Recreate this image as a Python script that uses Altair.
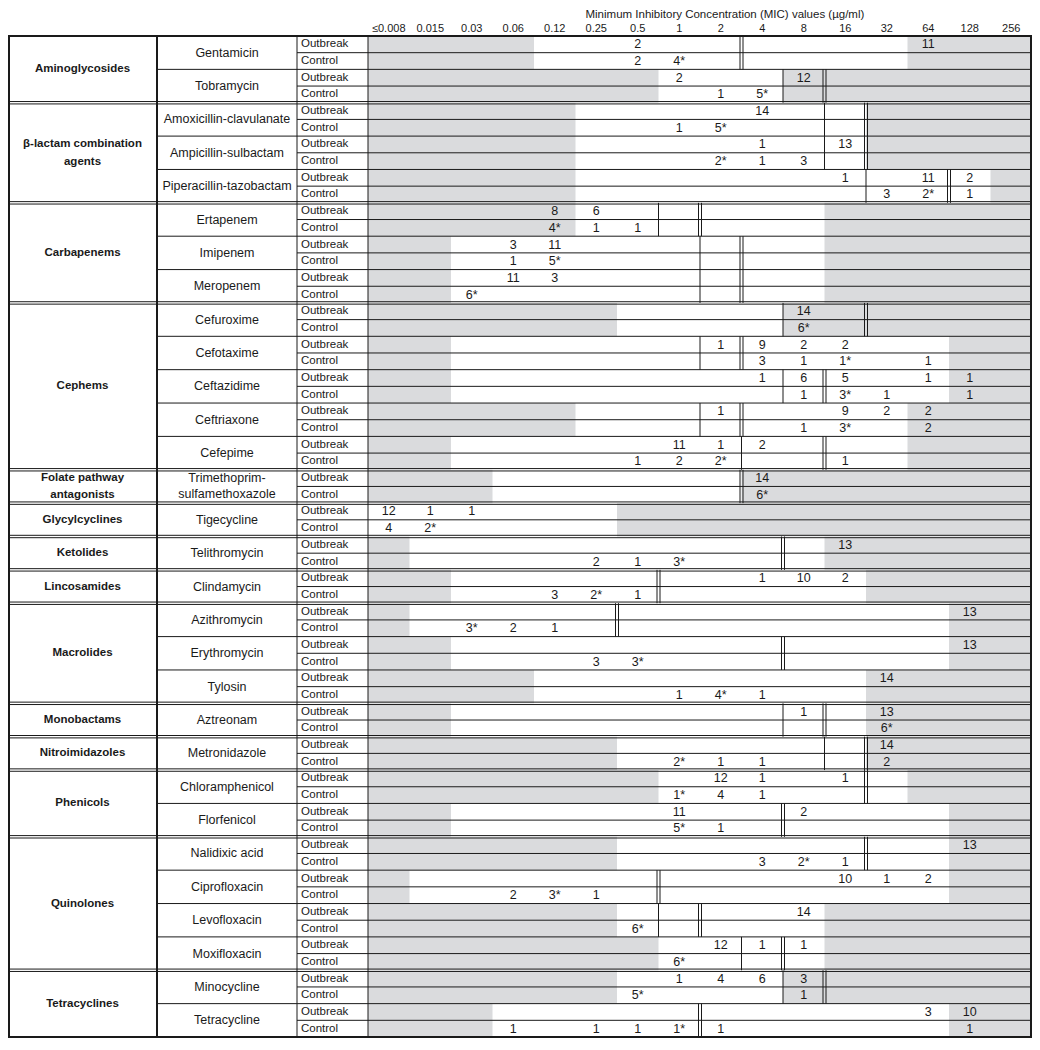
import altair as alt
import pandas as pd

# ---------------- data ----------------
mic_labels = ["≤0.008", "0.015", "0.03", "0.06", "0.12", "0.25", "0.5", "1",
              "2", "4", "8", "16", "32", "64", "128", "256"]
title_text = "Minimum Inhibitory Concentration (MIC) values (µg/ml)"
groups = ["Outbreak", "Control"]

class_names = ["Aminoglycosides", "β-lactam combination\nagents", "Carbapenems", "Cephems",
               "Folate pathway\nantagonists", "Glycylcyclines", "Ketolides", "Lincosamides",
               "Macrolides", "Monobactams", "Nitroimidazoles", "Phenicols", "Quinolones",
               "Tetracyclines"]
class_sizes = [2, 3, 3, 5, 1, 1, 1, 1, 3, 1, 1, 2, 4, 2]

drugs = ["Gentamicin", "Tobramycin", "Amoxicillin-clavulanate", "Ampicillin-sulbactam",
         "Piperacillin-tazobactam", "Ertapenem", "Imipenem", "Meropenem", "Cefuroxime",
         "Cefotaxime", "Ceftazidime", "Ceftriaxone", "Cefepime",
         "Trimethoprim-\nsulfamethoxazole", "Tigecycline", "Telithromycin", "Clindamycin",
         "Azithromycin", "Erythromycin", "Tylosin", "Aztreonam", "Metronidazole",
         "Chloramphenicol", "Florfenicol", "Nalidixic acid", "Ciprofloxacin",
         "Levofloxacin", "Moxifloxacin", "Minocycline", "Tetracycline"]

# tested dilution range (white cells): lowest and highest MIC tested
range_low = ["0.12", "1", "0.25", "0.25", "0.25", "0.25", "0.03", "0.03", "0.5", "0.03",
             "0.03", "0.25", "0.03", "0.06", "≤0.008", "0.015", "0.03", "0.015", "0.03",
             "0.12", "0.03", "0.5", "1", "0.03", "0.5", "0.015", "0.5", "1", "0.5", "0.06"]
range_high = ["32", "4", "16", "16", "128", "8", "8", "8", "4", "64",
              "64", "32", "32", "2", "0.25", "8", "16", "64", "64",
              "16", "16", "16", "32", "64", "64", "64", "8", "8", "4", "64"]

# breakpoint lines: drawn just before the given MIC column ("" = none)
susceptible_line = ["", "8", "16", "16", "32", "1", "2", "2", "8", "2",
                    "8", "2", "4", "", "", "", "", "", "", "",
                    "8", "16", "", "", "", "", "1", "4", "8", ""]
resistant_line = ["4", "16", "32", "32", "128", "2", "4", "4", "32", "4",
                  "16", "4", "16", "4", "", "8", "1", "0.5", "8", "",
                  "16", "32", "32", "8", "32", "1", "2", "8", "16", "2"]

outbreak_counts = [
    {"0.5": "2", "64": "11"},
    {"1": "2", "8": "12"},
    {"4": "14"},
    {"4": "1", "16": "13"},
    {"16": "1", "64": "11", "128": "2"},
    {"0.12": "8", "0.25": "6"},
    {"0.06": "3", "0.12": "11"},
    {"0.06": "11", "0.12": "3"},
    {"8": "14"},
    {"2": "1", "4": "9", "8": "2", "16": "2"},
    {"4": "1", "8": "6", "16": "5", "64": "1", "128": "1"},
    {"2": "1", "16": "9", "32": "2", "64": "2"},
    {"1": "11", "2": "1", "4": "2"},
    {"4": "14"},
    {"≤0.008": "12", "0.015": "1", "0.03": "1"},
    {"16": "13"},
    {"4": "1", "8": "10", "16": "2"},
    {"128": "13"},
    {"128": "13"},
    {"32": "14"},
    {"8": "1", "32": "13"},
    {"32": "14"},
    {"2": "12", "4": "1", "16": "1"},
    {"1": "11", "8": "2"},
    {"128": "13"},
    {"16": "10", "32": "1", "64": "2"},
    {"8": "14"},
    {"2": "12", "4": "1", "8": "1"},
    {"1": "1", "2": "4", "4": "6", "8": "3"},
    {"64": "3", "128": "10"},
]
control_counts = [
    {"0.5": "2", "1": "4*"},
    {"2": "1", "4": "5*"},
    {"1": "1", "2": "5*"},
    {"2": "2*", "4": "1", "8": "3"},
    {"32": "3", "64": "2*", "128": "1"},
    {"0.12": "4*", "0.25": "1", "0.5": "1"},
    {"0.06": "1", "0.12": "5*"},
    {"0.03": "6*"},
    {"8": "6*"},
    {"4": "3", "8": "1", "16": "1*", "64": "1"},
    {"8": "1", "16": "3*", "32": "1", "128": "1"},
    {"8": "1", "16": "3*", "64": "2"},
    {"0.5": "1", "1": "2", "2": "2*", "16": "1"},
    {"4": "6*"},
    {"≤0.008": "4", "0.015": "2*"},
    {"0.25": "2", "0.5": "1", "1": "3*"},
    {"0.12": "3", "0.25": "2*", "0.5": "1"},
    {"0.03": "3*", "0.06": "2", "0.12": "1"},
    {"0.25": "3", "0.5": "3*"},
    {"1": "1", "2": "4*", "4": "1"},
    {"32": "6*"},
    {"1": "2*", "2": "1", "4": "1", "32": "2"},
    {"1": "1*", "2": "4", "4": "1"},
    {"1": "5*", "2": "1"},
    {"4": "3", "8": "2*", "16": "1"},
    {"0.06": "2", "0.12": "3*", "0.25": "1"},
    {"0.5": "6*"},
    {"1": "6*"},
    {"0.5": "5*", "8": "1"},
    {"0.06": "1", "0.25": "1", "0.5": "1", "1": "1*", "2": "1", "128": "1"},
]

# ---------------- layout (pixels -> scale units) ----------------
W, H = 1024, 1030
DATA_LEFT = 360.0
CW = (W - DATA_LEFT) / 16.0      # px per MIC column
TABLE_TOP = 28.0
TABLE_BOTTOM = 1029.0
RH = (TABLE_BOTTOM - TABLE_TOP) / 60.0   # px per table row
XL = -DATA_LEFT / CW
GROUP_LEFT = (289 - DATA_LEFT) / CW
DRUG_LEFT = (149 - DATA_LEFT) / CW
NCOL = len(mic_labels)
NROW = 2 * len(drugs)
YT = -TABLE_TOP / RH
YB = (H - TABLE_TOP) / RH
HEADER_Y = (20.5 - TABLE_TOP) / RH
TITLE_Y = (7.0 - TABLE_TOP) / RH
TITLE_X = 8.6
CLASS_LH = 17.5
DRUG_LH = 16.0

GREY = "#dadbdd"
INK = "#1a1a1a"
FONT = "Liberation Sans"

xs = alt.Scale(domain=[XL, NCOL], nice=False, zero=False)
ys = alt.Scale(domain=[YT, YB], nice=False, zero=False, reverse=True)
idx = {m: i for i, m in enumerate(mic_labels)}


def centred(y, label, lh):
    n = label.count("\n") + 1
    return y - (n - 1) * lh / 2.0 / RH


# ---------------- build tables ----------------
grey_rows, count_rows, group_rows, drug_rows = [], [], [], []
single_rows, hthin_rows, class_sep_rows = [], [], []
drug_class_first = set()
class_rows = []
k0 = 0
for cname, size in zip(class_names, class_sizes):
    drug_class_first.add(k0)
    class_rows.append({"x": (XL + DRUG_LEFT) / 2, "y": centred(2 * k0 + size, cname, CLASS_LH),
                       "label": cname})
    if k0 > 0:
        class_sep_rows.append({"x": XL, "x2": NCOL, "y": 2 * k0})
    k0 += size

for k, drug in enumerate(drugs):
    lo, hi = idx[range_low[k]], idx[range_high[k]] + 1
    drug_rows.append({"x": (DRUG_LEFT + GROUP_LEFT) / 2, "y": centred(2 * k + 1, drug, DRUG_LH),
                      "label": drug})
    if k not in drug_class_first:
        hthin_rows.append({"x": DRUG_LEFT, "x2": NCOL, "y": 2 * k})
    hthin_rows.append({"x": GROUP_LEFT, "x2": NCOL, "y": 2 * k + 1})
    for g, counts in enumerate([outbreak_counts[k], control_counts[k]]):
        r = 2 * k + g
        group_rows.append({"x": GROUP_LEFT, "y": r + 0.5, "label": groups[g]})
        if lo > 0:
            grey_rows.append({"x": 0, "x2": lo, "y": r, "y2": r + 1})
        if hi < NCOL:
            grey_rows.append({"x": hi, "x2": NCOL, "y": r, "y2": r + 1})
        for m, txt in counts.items():
            count_rows.append({"x": idx[m] + 0.5, "y": r + 0.5, "label": txt})
    if susceptible_line[k]:
        single_rows.append({"x": idx[susceptible_line[k]], "y": 2 * k, "y2": 2 * k + 2})

double_rows = [{"x": idx[resistant_line[k]], "y": 2 * k, "y2": 2 * k + 2}
               for k in range(len(drugs)) if resistant_line[k]]

header_rows = [{"x": i + 0.5, "y": HEADER_Y, "label": m} for i, m in enumerate(mic_labels)]
title_rows = [{"x": TITLE_X, "y": TITLE_Y, "label": title_text}]

vthin_rows = [{"x": GROUP_LEFT, "y": 0, "y2": NROW}, {"x": 0, "y": 0, "y2": NROW}]
vthick_rows = [{"x": DRUG_LEFT, "y": 0, "y2": NROW},
               {"x": XL + 1.0 / CW, "y": 0, "y2": NROW},
               {"x": NCOL - 1.0 / CW, "y": 0, "y2": NROW}]
hthick_rows = [{"x": XL, "x2": NCOL, "y": 0}, {"x": XL, "x2": NCOL, "y": NROW}]


def X():
    return alt.X("x:Q", scale=xs, axis=None)


def Y():
    return alt.Y("y:Q", scale=ys, axis=None)


grey = alt.Chart(pd.DataFrame(grey_rows)).mark_rect(color=GREY, strokeWidth=0).encode(
    x=X(), x2="x2:Q", y=Y(), y2="y2:Q")

hthin = alt.Chart(pd.DataFrame(hthin_rows)).mark_rule(color=INK, strokeWidth=1).encode(
    x=X(), x2="x2:Q", y=Y())
hthick = alt.Chart(pd.DataFrame(hthick_rows)).mark_rule(color=INK, strokeWidth=2).encode(
    x=X(), x2="x2:Q", y=Y())
csep_a = alt.Chart(pd.DataFrame(class_sep_rows)).mark_rule(color=INK, strokeWidth=1, yOffset=-1.2).encode(
    x=X(), x2="x2:Q", y=Y())
csep_b = alt.Chart(pd.DataFrame(class_sep_rows)).mark_rule(color=INK, strokeWidth=1, yOffset=1.2).encode(
    x=X(), x2="x2:Q", y=Y())
vthin = alt.Chart(pd.DataFrame(vthin_rows)).mark_rule(color=INK, strokeWidth=1).encode(
    x=X(), y=Y(), y2="y2:Q")
vthick = alt.Chart(pd.DataFrame(vthick_rows)).mark_rule(color=INK, strokeWidth=2).encode(
    x=X(), y=Y(), y2="y2:Q")

single = alt.Chart(pd.DataFrame(single_rows)).mark_rule(color=INK, strokeWidth=1).encode(
    x=X(), y=Y(), y2="y2:Q")
dbl_a = alt.Chart(pd.DataFrame(double_rows)).mark_rule(color=INK, strokeWidth=1, xOffset=-1.5).encode(
    x=X(), y=Y(), y2="y2:Q")
dbl_b = alt.Chart(pd.DataFrame(double_rows)).mark_rule(color=INK, strokeWidth=1, xOffset=1.5).encode(
    x=X(), y=Y(), y2="y2:Q")

counts_t = alt.Chart(pd.DataFrame(count_rows)).mark_text(
    font=FONT, fontSize=12.5, color=INK, baseline="middle", align="center").encode(
    x=X(), y=Y(), text="label:N")
group_t = alt.Chart(pd.DataFrame(group_rows)).mark_text(
    font=FONT, fontSize=11.5, color=INK, baseline="middle", align="left", dx=4).encode(
    x=X(), y=Y(), text="label:N")
drug_t = alt.Chart(pd.DataFrame(drug_rows)).mark_text(
    font=FONT, fontSize=12.5, color=INK, baseline="middle", align="center",
    lineBreak="\n", lineHeight=DRUG_LH).encode(
    x=X(), y=Y(), text="label:N")
class_t = alt.Chart(pd.DataFrame(class_rows)).mark_text(
    font=FONT, fontSize=11.5, fontWeight="bold", color=INK, baseline="middle", align="center",
    lineBreak="\n", lineHeight=CLASS_LH).encode(
    x=X(), y=Y(), text="label:N")
header_t = alt.Chart(pd.DataFrame(header_rows)).mark_text(
    font=FONT, fontSize=11, color=INK, baseline="middle", align="center").encode(
    x=X(), y=Y(), text="label:N")
title_t = alt.Chart(pd.DataFrame(title_rows)).mark_text(
    font=FONT, fontSize=11.5, color=INK, baseline="middle", align="center").encode(
    x=X(), y=Y(), text="label:N")

chart = alt.layer(
    grey, hthin, csep_a, csep_b, vthin, single, dbl_a, dbl_b, vthick, hthick,
    counts_t, group_t, drug_t, class_t, header_t, title_t
).properties(
    width=W, height=H, padding=0,
    autosize=alt.AutoSizeParams(type="none"),
    background="white",
).configure_view(stroke=None)

chart.save("out.html", embed_options={"renderer": "svg", "actions": False})
